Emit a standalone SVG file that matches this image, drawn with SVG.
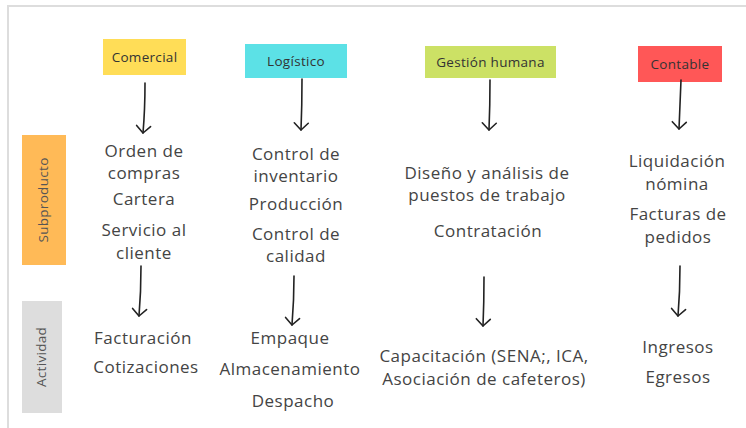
<svg xmlns="http://www.w3.org/2000/svg" width="746" height="428" viewBox="0 0 746 428">
<style>
.hd{font-family:"Open Sans","Liberation Sans",sans-serif;font-size:13.5px;letter-spacing:0.3px;fill:#333;text-anchor:middle}
.tx{font-family:"Open Sans","Liberation Sans",sans-serif;font-size:17px;letter-spacing:0.5px;fill:#444;text-anchor:middle}
.vl{font-family:"Open Sans","Liberation Sans",sans-serif;font-size:13.5px;letter-spacing:0.3px;fill:#555;text-anchor:middle}
.ar{fill:none;stroke:#222;stroke-width:1.6;stroke-linecap:round;marker-end:url(#v)}
</style>
<defs>
<marker id="v" viewBox="-10 -10 12 20" refX="0" refY="0" markerWidth="12" markerHeight="20" markerUnits="userSpaceOnUse" orient="auto" overflow="visible">
<path d="M-7,-7 L0,0 L-7,7" fill="none" stroke="#222" stroke-width="1.6" stroke-linecap="round" stroke-linejoin="round"/>
</marker>
</defs>
<rect width="746" height="428" fill="#fff"/>
<path d="M8,428 V6 H746" fill="none" stroke="#ddd" stroke-width="2"/>

<g id="comercial"><rect x="103" y="39" width="83" height="36" fill="#FFDD57"/><text class="hd" x="144.5" y="62">Comercial</text></g>
<g id="logistico"><rect x="245" y="44" width="102" height="34" fill="#5CE1E6"/><text class="hd" x="296" y="66">Logístico</text></g>
<g id="gestion"><rect x="425" y="46" width="131" height="32" fill="#CCE165"/><text class="hd" x="490.5" y="67">Gestión humana</text></g>
<g id="contable"><rect x="638" y="46" width="84" height="36" fill="#FF5757"/><text class="hd" x="680" y="69">Contable</text></g>

<g id="subproducto"><rect x="22" y="135" width="44" height="130" fill="#FFBA57"/><text class="vl" transform="translate(48,200) rotate(-90)">Subproducto</text></g>
<g id="actividad"><rect x="22" y="301" width="40" height="112" fill="#DDDDDD"/><text class="vl" transform="translate(46,357) rotate(-90)">Actividad</text></g>

<g id="sub-comercial">
<text class="tx" x="144" y="157">Orden de</text>
<text class="tx" x="144" y="179">compras</text>
<text class="tx" x="144" y="205">Cartera</text>
<text class="tx" x="144" y="236">Servicio al</text>
<text class="tx" x="144" y="259">cliente</text>
</g>
<g id="sub-logistico">
<text class="tx" x="296" y="160">Control de</text>
<text class="tx" x="296" y="182">inventario</text>
<text class="tx" x="296" y="210">Producción</text>
<text class="tx" x="296" y="240">Control de</text>
<text class="tx" x="296" y="262">calidad</text>
</g>
<g id="sub-gestion">
<text class="tx" x="487" y="179">Diseño y análisis de</text>
<text class="tx" x="487" y="201">puestos de trabajo</text>
<text class="tx" x="488" y="237">Contratación</text>
</g>
<g id="sub-contable">
<text class="tx" x="677" y="167">Liquidación</text>
<text class="tx" x="677" y="190">nómina</text>
<text class="tx" x="678" y="220">Facturas de</text>
<text class="tx" x="678" y="243">pedidos</text>
</g>

<g id="act-comercial">
<text class="tx" x="143" y="344">Facturación</text>
<text class="tx" x="146" y="373">Cotizaciones</text>
</g>
<g id="act-logistico">
<text class="tx" x="290" y="375" dy="-31">Empaque</text>
<text class="tx" x="290" y="375">Almacenamiento</text>
<text class="tx" x="293" y="407">Despacho</text>
</g>
<g id="act-gestion">
<text class="tx" x="484" y="362">Capacitación (SENA;, ICA,</text>
<text class="tx" x="484" y="385">Asociación de cafeteros)</text>
</g>
<g id="act-contable">
<text class="tx" x="678" y="353">Ingresos</text>
<text class="tx" x="678" y="383">Egresos</text>
</g>

<g id="connectors">
<path class="ar" d="M145,83 Q145,110 143,133"/>
<path class="ar" d="M302,79 Q302,105 301,130"/>
<path class="ar" d="M490,80 Q490,105 489,130"/>
<path class="ar" d="M681,80 Q680,105 679,129"/>
<path class="ar" d="M141,266 Q141,292 139,316"/>
<path class="ar" d="M294,276 Q294,300 292,325"/>
<path class="ar" d="M484,277 Q484,302 483,326"/>
<path class="ar" d="M680,266 Q680,292 678,316"/>
</g>
</svg>
